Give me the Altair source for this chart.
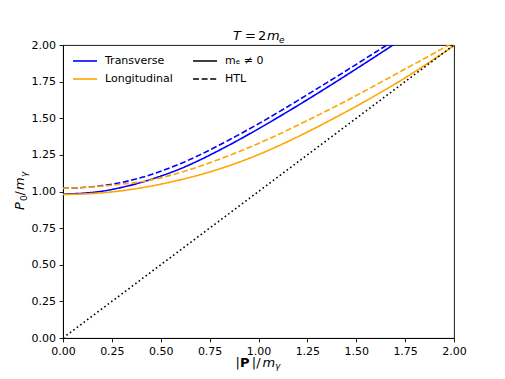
import altair as alt
import pandas as pd

# momentum |P|/m_gamma
k = [0.0, 0.1, 0.2, 0.3, 0.4, 0.5, 0.6, 0.7, 0.8, 0.9, 1.0,
     1.1, 1.2, 1.3, 1.4, 1.5, 1.6, 1.7, 1.8, 1.9, 2.0]
# P0/m_gamma
trans_me = [0.983, 0.988, 1.002, 1.028, 1.062, 1.105, 1.155, 1.215, 1.282, 1.353, 1.428,
            1.506, 1.586, 1.668, 1.752, 1.837, 1.923, 2.010, 2.095, 2.18, 2.265]
trans_htl = [1.022, 1.027, 1.040, 1.062, 1.095, 1.138, 1.190, 1.250, 1.317, 1.388, 1.462,
             1.540, 1.620, 1.702, 1.784, 1.868, 1.952, 2.036, 2.12, 2.205, 2.29]
long_me = [0.980, 0.983, 0.991, 1.005, 1.025, 1.050, 1.080, 1.114, 1.154, 1.200, 1.252,
           1.310, 1.373, 1.440, 1.510, 1.582, 1.657, 1.735, 1.818, 1.905, 1.996]
long_htl = [1.022, 1.027, 1.037, 1.050, 1.066, 1.093, 1.130, 1.172, 1.220, 1.272, 1.328,
            1.388, 1.452, 1.518, 1.585, 1.655, 1.727, 1.800, 1.873, 1.945, 2.02]
diag_k = [0.0, 2.0]
diag_p = [0.0, 2.0]

ticks = [0.0, 0.25, 0.5, 0.75, 1.0, 1.25, 1.5, 1.75, 2.0]
modes = ["Transverse", "Longitudinal"]
kinds = ["mₑ ≠ 0", "HTL"]
mode_colors = ["#0000ff", "#ffa500"]

rows = []
for order, (mode, kind, vals) in enumerate([
        (modes[0], kinds[0], trans_me), (modes[0], kinds[1], trans_htl),
        (modes[1], kinds[0], long_me), (modes[1], kinds[1], long_htl)]):
    for kk, v in zip(k, vals):
        rows.append({"k": kk, "p0": v, "mode": mode, "kind": kind, "grp": order})
df = pd.DataFrame(rows)
diag = pd.DataFrame({"k": diag_k, "p0": diag_p})

FONT = "DejaVu Sans"
xscale = alt.Scale(domain=[0, 2], nice=False)
yscale = alt.Scale(domain=[0, 2], nice=False)
axis_kw = dict(title=None, values=ticks, format=".2f", labelFlush=False, labelOverlap=False)

lines = alt.Chart(df).mark_line(clip=True, strokeWidth=1.6, interpolate="monotone").encode(
    x=alt.X("k:Q", scale=xscale, axis=alt.Axis(**axis_kw)),
    y=alt.Y("p0:Q", scale=yscale, axis=alt.Axis(**axis_kw)),
    color=alt.Color("mode:N", scale=alt.Scale(domain=modes, range=mode_colors),
                    legend=alt.Legend(title=None, orient="none", legendX=9, legendY=3,
                                      symbolType="stroke", symbolSize=576,
                                      symbolStrokeWidth=1.6, labelFontSize=11,
                                      labelFont=FONT, labelColor="black",
                                      labelOffset=7, rowPadding=-8, padding=0)),
    strokeDash=alt.StrokeDash("kind:N",
                              scale=alt.Scale(domain=kinds, range=[[1, 0], [6, 2.6]]),
                              legend=alt.Legend(title=None, orient="none", legendX=129,
                                                legendY=3, symbolType="stroke",
                                                symbolSize=576, symbolStrokeWidth=1.6,
                                                symbolStrokeColor="black",
                                                labelFontSize=11, labelFont=FONT,
                                                labelColor="black", labelOffset=7,
                                                rowPadding=-8, padding=0)),
    detail="grp:N",
)

diag_line = alt.Chart(diag).mark_line(clip=True, color="black", strokeWidth=1.6,
                                      strokeDash=[1.6, 2.7]).encode(
    x=alt.X("k:Q", scale=xscale, axis=alt.Axis(**axis_kw)),
    y=alt.Y("p0:Q", scale=yscale, axis=alt.Axis(**axis_kw)),
)

one = pd.DataFrame({"z": [0]})


def txt(s, x, y, size=13, style="normal", weight="normal", angle=0):
    return alt.Chart(one).mark_text(text=s, font=FONT, fontSize=size, fontStyle=style,
                                    fontWeight=weight, align="left", baseline="alphabetic",
                                    angle=angle, color="black").encode(
        x=alt.value(x), y=alt.value(y))


title_parts = [
    txt("T", 170, -5.5, style="italic"),
    txt("=", 182, -5.5),
    txt("2", 195, -5.5),
    txt("m", 204, -5.5, style="italic"),
    txt("e", 216, -2.5, size=9, style="italic"),
]
xl_y = 321.5
xlabel_parts = [
    txt("|", 172.5, xl_y),
    txt("P", 177.0, xl_y, weight="bold"),
    txt("|/", 188.8, xl_y),
    txt("m", 199.5, xl_y, style="italic"),
    txt("γ", 212.0, xl_y + 2, size=9, style="italic"),
]
yl_x = -39.5
ylabel_parts = [
    txt("P", yl_x, 165, style="italic", angle=270),
    txt("0", yl_x + 3, 156, size=9, angle=270),
    txt("/", yl_x, 150.5, angle=270),
    txt("m", yl_x, 145.0, style="italic", angle=270),
    txt("γ", yl_x + 3, 132.0, size=9, style="italic", angle=270),
]

chart = alt.layer(lines, diag_line, *title_parts, *xlabel_parts, *ylabel_parts).properties(
    width=391, height=293,
    autosize=alt.AutoSizeParams(type="none"),
    padding={"left": 55, "top": 37, "right": 40, "bottom": 33},
).configure_axis(
    grid=False, domainColor="black", domainWidth=0.9, tickColor="black", tickWidth=0.9,
    tickSize=3.9, labelFontSize=11, labelFont=FONT, labelColor="black", labelPadding=3.5,
).configure_view(stroke="black", strokeWidth=0.9)

chart.save("out.html", embed_options={"renderer": "svg", "actions": False})
